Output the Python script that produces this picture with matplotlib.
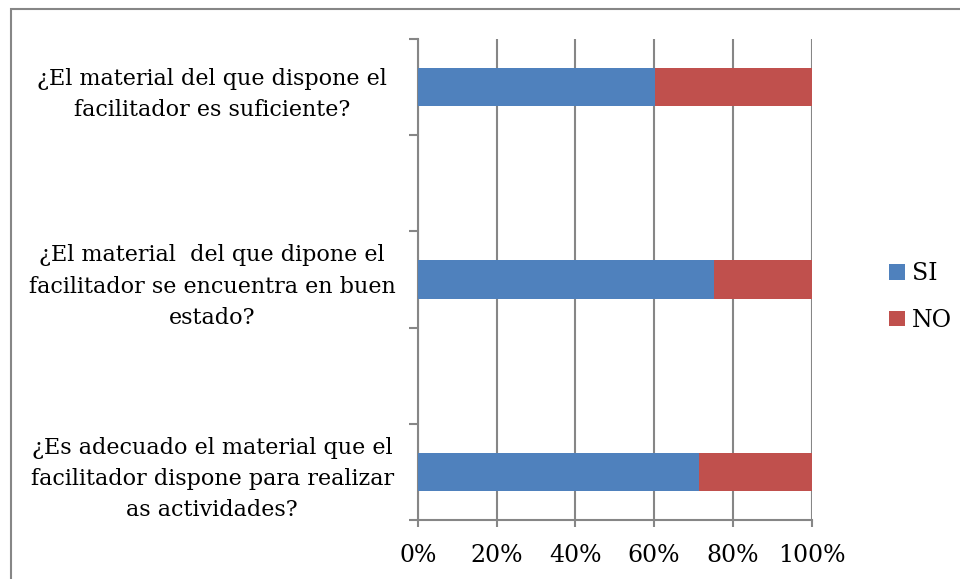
import matplotlib
matplotlib.use("Agg")
import matplotlib.pyplot as plt
from matplotlib.patches import Rectangle, Patch
from matplotlib.ticker import FixedLocator, PercentFormatter

categories = [
    "¿El material del que dispone el\nfacilitador es suficiente?",
    "¿El material  del que dipone el\nfacilitador se encuentra en buen\nestado?",
    "¿Es adecuado el material que el\nfacilitador dispone para realizar\nas actividades?",
]
si_values = [60.3, 75.3, 71.4]
no_values = [100 - v for v in si_values]
series_names = ["SI", "NO"]
x_ticks = [0, 20, 40, 60, 80, 100]

BLUE = "#4F81BD"
RED = "#C0504D"
GRAY = "#868686"
FONT = "DejaVu Serif"

W, H = 960, 579
fig = plt.figure(figsize=(W / 100, H / 100), dpi=100)

# outer frame
fig.patches.append(Rectangle((11 / W, -0.05), 1.2, 1 - 9 / H + 0.05, transform=fig.transFigure,
                             fill=False, edgecolor=GRAY, linewidth=1.5))

left, right, top, bottom = 417.7, 811.7, 39, 520
ax = fig.add_axes([left / W, 1 - bottom / H, (right - left) / W, (bottom - top) / H])

pos = [2 * i for i in range(len(categories))]
ax.barh(pos, si_values, height=0.4, color=BLUE, edgecolor="none", zorder=3)
ax.barh(pos, no_values, left=si_values, height=0.4, color=RED, edgecolor="none", zorder=3)

ax.set_xlim(0, 100)
ax.set_ylim(4.5, -0.5)

ax.set_xticks(x_ticks)
ax.xaxis.set_major_formatter(PercentFormatter(decimals=0))
ax.grid(axis="x", color=GRAY, linewidth=1.5, zorder=0)

ax.set_yticks(pos)
ax.set_yticklabels(categories)
ax.yaxis.set_minor_locator(FixedLocator([-0.5, 0.5, 1.5, 2.5, 3.5, 4.5]))
ax.tick_params(axis="y", which="major", length=0, pad=148)
ax.tick_params(axis="y", which="minor", length=6.5, width=1.5, color=GRAY)
ax.tick_params(axis="x", length=5, width=1.5, color=GRAY, pad=12)
for lab in ax.get_yticklabels():
    lab.set_ha("center")
    lab.set_multialignment("center")
    lab.set_fontfamily(FONT)
    lab.set_fontsize(16)
    lab.set_linespacing(1.55)
for lab in ax.get_xticklabels():
    lab.set_fontfamily(FONT)
    lab.set_fontsize(17)

for s in ["top", "right"]:
    ax.spines[s].set_visible(False)
for s in ["left", "bottom"]:
    ax.spines[s].set_color(GRAY)
    ax.spines[s].set_linewidth(1.5)

handles = [Patch(facecolor=BLUE, edgecolor="none"), Patch(facecolor=RED, edgecolor="none")]
fig.legend(handles, series_names, loc="center left", bbox_to_anchor=(868 / W, 1 - 297 / H),
           frameon=False, prop={"family": FONT, "size": 17}, handlelength=0.65,
           handleheight=0.65, handletextpad=0.3, labelspacing=1.0)

fig.savefig("out.png", dpi=100)
